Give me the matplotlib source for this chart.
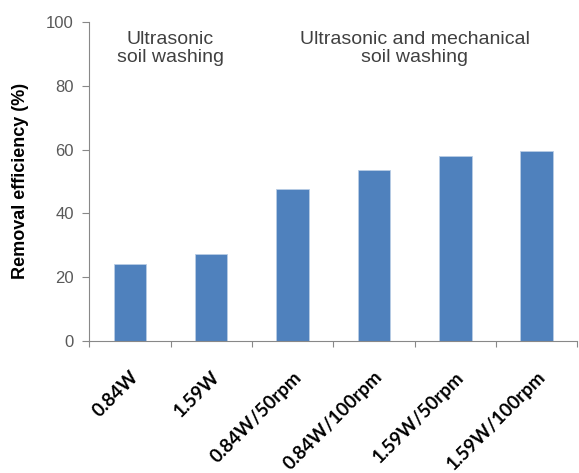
import matplotlib.pyplot as plt
import numpy as np

labels = ["0.84W", "1.59W", "0.84W/50rpm", "0.84W/100rpm", "1.59W/50rpm", "1.59W/100rpm"]
removal = [24.1, 27.2, 47.5, 53.6, 58.0, 59.6]
y_ticks = [0, 20, 40, 60, 80, 100]

fig = plt.figure(figsize=(5.79, 4.73), dpi=100)
ax = fig.add_axes([0.154, 0.280, 0.843, 0.673])

x = np.arange(len(labels))
ax.bar(x, removal, width=0.4, color="#4F81BD", edgecolor="#B9CDE5", linewidth=0.6, zorder=2)

ax.set_xlim(-0.5, len(labels) - 0.5)
ax.set_ylim(0, 100)
ax.set_yticks(y_ticks)
ax.set_yticklabels([str(v) for v in y_ticks], color="#595959", fontsize=12, family="Liberation Sans")

# ticks between categories, labels at centres
ax.set_xticks(np.arange(-0.5, len(labels)), minor=False)
ax.set_xticklabels([])
ax.set_xticks(x, minor=True)
ax.set_xticklabels(labels, minor=True, rotation=45, ha="right", rotation_mode="anchor",
                   fontsize=13.5, fontweight="bold", family="Lato")
ax.tick_params(axis="x", which="minor", length=0, pad=20)
ax.tick_params(axis="x", which="major", length=4, color="#888888", direction="out")
ax.tick_params(axis="y", length=5, color="#888888", direction="out", pad=6)

for s in ["top", "right"]:
    ax.spines[s].set_visible(False)
for s in ["left", "bottom"]:
    ax.spines[s].set_color("#888888")

ax.set_ylabel("Removal efficiency (%)", fontsize=13, fontweight="bold", family="Liberation Sans", labelpad=12)

ax.text(0.5, 91.8, "Ultrasonic\nsoil washing", ha="center", va="center", fontsize=14,
        color="#404040", family="Liberation Sans", linespacing=1.05)
ax.text(3.5, 91.8, "Ultrasonic and mechanical\nsoil washing", ha="center", va="center", fontsize=14,
        color="#404040", family="Liberation Sans", linespacing=1.05)

fig.savefig("out.png", dpi=100)
